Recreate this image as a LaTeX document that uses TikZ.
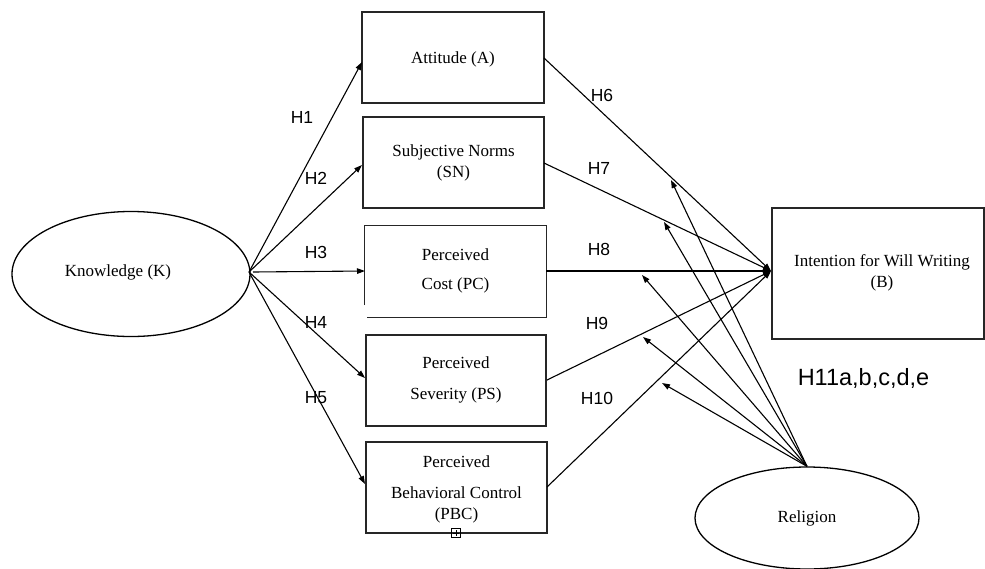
\documentclass[tikz,border=0pt]{standalone}
\usepackage{fontspec}
\setmainfont{Liberation Serif}
\newfontfamily\hfont{Liberation Sans}
\usetikzlibrary{shapes.geometric,arrows.meta}
\begin{document}
\begin{tikzpicture}[x=1pt,y=-1pt,
  boxline/.style={draw=black!85, line width=1.1pt},
  box/.style={boxline, rectangle, inner sep=0pt},
  oval/.style={draw=black, line width=1.3pt, ellipse, inner sep=0pt},
  txt/.style={inner sep=0pt, font=\fontsize{17}{21}\selectfont},
  hlab/.style={inner sep=0pt, font=\hfont\fontsize{17.5}{21}\selectfont},
  arr/.style={draw=black, line width=1.1pt, -{Triangle[length=8pt,width=5.5pt]}},
  ln/.style={draw=black, line width=1.1pt}]
\useasboundingbox (0,0) rectangle (985,568);
\fill[white] (0,0) rectangle (985,568);

% ovals
\node[oval, minimum width=238pt, minimum height=125pt] (K) at (131,274) {};
\node[txt] (Kt) at (118,272) {Knowledge (K)};
\node[oval, minimum width=224pt, minimum height=102pt] (R) at (807,518) {};
\node[txt] (Rt) at (807,518) {Religion};

% boxes
\node[box, minimum width=182pt, minimum height=91pt] (att) at (453,57.5) {};
\node[txt] (attt) at (453,59) {Attitude (A)};
\node[box, minimum width=181pt, minimum height=91pt] (sn) at (453.5,162.5) {};
\node[txt] (snt1) at (453.5,152) {Subjective Norms};
\node[txt] (snt2) at (453.5,173) {(SN)};
\node[inner sep=0pt, minimum width=181pt, minimum height=91pt] (pc) at (455.5,271.5) {};
\draw[boxline] ([yshift=12pt]pc.south west) -- (pc.north west) -- (pc.north east) -- (pc.south east) -- ([xshift=2pt]pc.south west);
\node[txt] (pct1) at (455.5,255) {Perceived};
\node[txt] (pct2) at (455.5,285) {Cost (PC)};
\node[box, minimum width=180pt, minimum height=91pt] (ps) at (456,380.5) {};
\node[txt] (pst1) at (456,363) {Perceived};
\node[txt] (pst2) at (456,395) {Severity (PS)};
\node[box, minimum width=181pt, minimum height=91pt] (pbc) at (456.5,487.5) {};
\node[txt] (pbct1) at (456.5,462) {Perceived};
\node[txt] (pbct2) at (456.5,493) {Behavioral Control};
\node[txt] (pbct3) at (456.5,515) {(PBC)};
\node[box, minimum width=212pt, minimum height=131pt] (B) at (878,273.5) {};
\node[txt] (Bt1) at (882,262) {Intention for Will Writing};
\node[txt] (Bt2) at (882,283) {(B)};

% small marker below PBC
\node[draw=black, line width=0.7pt, minimum size=9pt, inner sep=0pt] (mk) at (456,533) {};
\draw[line width=0.7pt] ([xshift=-3pt]mk.center) -- ([xshift=3pt]mk.center)
  ([yshift=-3pt]mk.center) -- ([yshift=3pt]mk.center);

% coordinates
\coordinate (kout) at (249,272);
\coordinate (attin) at (362,62);
\coordinate (snin) at (362,165);
\coordinate (pcin) at (365,271);
\coordinate (psin) at (365,378);
\coordinate (pbcin) at (365,484);
\coordinate (attout) at (544,58);
\coordinate (snout) at (544,163);
\coordinate (pcout) at (546,271);
\coordinate (psout) at (547,380);
\coordinate (pbcout) at (547,487);
\coordinate (bin) at (771,271);
\coordinate (e1) at (671,180);
\coordinate (e2) at (664,222);
\coordinate (e3) at (642,275);
\coordinate (e4) at (643,337);
\coordinate (e5) at (662,383);

% knowledge arrows
\draw[arr] (kout) -- (attin);
\draw[arr] (kout) -- (snin);
\draw[arr] ([xshift=4pt]kout) -- (pcin);
\draw[arr] (kout) -- (psin);
\draw[arr] (kout) -- (pbcin);

% arrows to B
\draw[arr] (attout) -- (bin);
\draw[arr] (snout) -- (bin);
\draw[arr] (pcout) -- (bin);
\draw[arr] (psout) -- (bin);
\draw[arr] (pbcout) -- (bin);

% religion moderation arrows
\foreach \e in {e1,e2,e3,e4,e5}{\draw[arr] (R.north) -- (\e);}

% labels
\node[hlab] (h1) at (302,117) {H1};
\node[hlab] (h2) at (316,178) {H2};
\node[hlab] (h3) at (316,252) {H3};
\node[hlab] (h4) at (316,322) {H4};
\node[hlab] (h5) at (316,398) {H5};
\node[hlab] (h6) at (602,95) {H6};
\node[hlab] (h7) at (599,168) {H7};
\node[hlab] (h8) at (599,249) {H8};
\node[hlab] (h9) at (597,323) {H9};
\node[hlab] (h10) at (597,398) {H10};
\node[inner sep=0pt, font=\hfont\fontsize{23.5}{28}\selectfont] (h11) at (863.5,378) {H11a,b,c,d,e};
\end{tikzpicture}
\end{document}
